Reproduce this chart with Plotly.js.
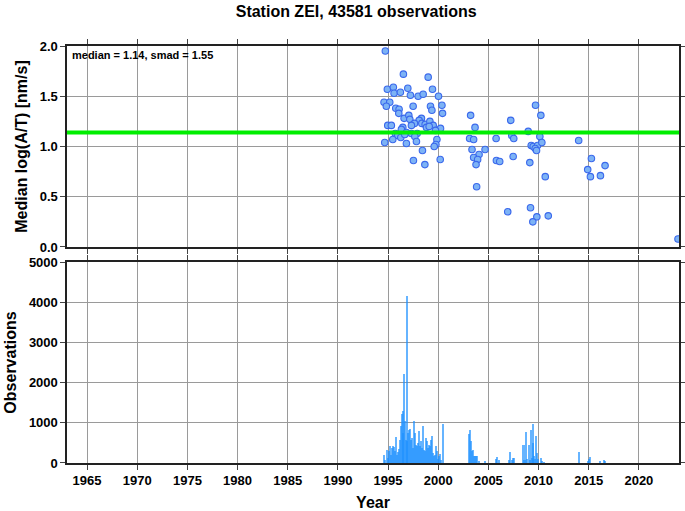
<!DOCTYPE html>
<html>
<head>
<meta charset="utf-8">
<script src="https://cdn.plot.ly/plotly-3.0.1.min.js"></script>
<style>html,body{margin:0;padding:0;background:#fff;}#chart{width:685px;height:511px;}</style>
</head>
<body>
<div id="chart"></div>
<script>
// Station ZEI data
const titleText = "Station ZEI, 43581 observations";
const medianValue = 1.14;
const smadValue = 1.55;

const pointYears = [
1994.73,1996.53,1999.0,1994.93,1995.53,1995.6,1996.23,1996.97,1997.23,1998.0,1998.5,1999.43,2000.03,
1994.6,1995.17,1994.83,1995.77,1996.1,1996.07,1997.5,1999.23,1999.37,2000.37,2000.43,
1996.6,1997.07,1997.17,1998.33,1998.1,1997.63,1997.33,1998.37,1998.7,1999.17,1999.5,1998.83,1999.1,
1994.97,1995.33,1996.47,1996.33,2000.23,1999.73,1995.73,1996.83,1997.33,1997.9,1995.97,1996.27,
1996.67,1997.67,1995.47,1999.87,1994.67,1996.83,1997.83,1999.77,1999.6,1998.43,1997.53,1998.67,2000.2,
2003.23,2003.67,2003.13,2003.53,2003.37,2004.67,2004.07,2003.53,2003.93,2003.77,2003.83,
2005.77,2005.8,2006.13,2007.23,2007.33,2007.53,2007.47,2006.93,
2009.7,2010.23,2008.97,2010.13,2009.27,2009.47,2009.9,2010.33,2009.67,2009.8,2009.13,2010.67,
2009.2,2009.83,2009.43,2010.97,
2014.0,2015.27,2016.63,2014.9,2015.17,2016.17,2023.9];
const pointMedians = [
1.95,1.72,1.69,1.57,1.59,1.53,1.54,1.58,1.51,1.50,1.52,1.57,1.50,
1.44,1.44,1.40,1.38,1.37,1.33,1.40,1.40,1.36,1.41,1.33,
1.28,1.31,1.27,1.28,1.26,1.23,1.21,1.23,1.22,1.25,1.21,1.19,1.20,
1.21,1.21,1.19,1.17,1.18,1.16,1.13,1.14,1.13,1.13,1.11,1.09,
1.12,1.10,1.07,1.07,1.04,1.03,1.05,1.02,1.00,0.96,0.86,0.82,0.87,
1.31,1.19,1.08,1.07,0.97,0.97,0.92,0.89,0.87,0.82,0.60,
1.08,0.86,0.85,1.26,1.11,1.08,0.90,0.35,
1.41,1.31,1.15,1.10,1.01,1.00,1.01,1.04,0.98,0.96,0.84,0.70,
0.39,0.30,0.25,0.31,
1.06,0.88,0.81,0.77,0.70,0.71,0.08];

const barYears = [
1994.6,1994.7,1994.9,1995.0,1995.1,1995.2,1995.3,1995.4,1995.5,1995.6,1995.7,1995.8,1995.9,
1996.0,1996.1,1996.2,1996.3,1996.4,1996.47,1996.53,1996.6,1996.7,1996.8,1996.87,1996.93,
1997.03,1997.13,1997.23,1997.33,1997.43,1997.53,1997.63,1997.73,1997.83,1997.93,
1998.03,1998.13,1998.23,1998.33,1998.43,1998.5,1998.6,1998.7,1998.8,1998.9,
1999.0,1999.1,1999.2,1999.3,1999.4,1999.5,1999.6,1999.7,1999.8,1999.9,
2000.0,2000.1,2000.2,2000.3,2000.43,
2003.1,2003.2,2003.3,2003.4,2003.5,2003.6,2003.7,2003.8,2003.9,2004.03,2004.67,
2005.73,2005.83,2006.1,2007.03,2007.2,2007.33,2007.47,2007.57,
2008.5,2008.6,2008.7,2008.8,2009.0,2009.1,2009.2,2009.3,2009.4,2009.47,2009.57,2009.67,
2009.77,2009.87,2009.97,2010.2,2010.3,2010.57,
2014.0,2014.9,2015.07,2015.17,2016.1,2016.5,2016.6];
const barCounts = [
190,80,330,125,290,420,210,375,430,400,290,650,210,
270,350,560,920,1220,1290,750,2210,1040,580,4150,540,
750,830,850,580,620,375,1040,750,460,420,
500,790,420,540,375,930,330,290,620,540,
375,460,420,580,670,250,170,210,430,290,
110,170,230,80,960,
720,830,540,290,320,180,180,180,170,60,60,
110,150,80,80,275,80,125,125,
460,80,775,100,440,80,820,125,500,970,170,100,
680,250,100,115,60,35,
275,60,100,140,40,65,50];

const xRange = [1963, 2024];
const xTicks = [1965,1970,1975,1980,1985,1990,1995,2000,2005,2010,2015,2020];

const fontFam = "Liberation Sans, Arial, Helvetica, sans-serif";
const tickFont = {family: fontFam, size: 13, color: "#000", weight: "bold"};

const traces = [
  {
    x: pointYears, y: pointMedians, type: "scatter", mode: "markers",
    xaxis: "x", yaxis: "y",
    marker: {size: 6.5, color: "#7db3f5", line: {color: "#3a68ec", width: 1.1}},
    hoverinfo: "x+y", showlegend: false
  },
  {
    x: barYears, y: barCounts, type: "bar",
    xaxis: "x2", yaxis: "y2",
    width: 0.2,
    marker: {color: "rgba(30,144,255,0.68)", line: {width: 0}},
    showlegend: false
  }
];

const axisCommon = {
  range: xRange, tickmode: "array", tickvals: xTicks,
  showgrid: true, gridcolor: "#9a9a9a", gridwidth: 1,
  showline: true, linecolor: "#222", linewidth: 1.6, mirror: "ticks",
  ticks: "outside", ticklen: 5, tickcolor: "#444", tickwidth: 1,
  zeroline: false, tickfont: tickFont
};

const layout = {
  width: 685, height: 511,
  margin: {l: 67, r: 6, t: 46, b: 48},
  paper_bgcolor: "#fff", plot_bgcolor: "#fff",
  bargap: 0, barmode: "overlay",
  title: {text: titleText, x: 0.52, xanchor: "center", y: 0.977, yanchor: "middle",
          font: {family: fontFam, size: 16, color: "#000", weight: "bold"}},
  xaxis: Object.assign({}, axisCommon, {anchor: "y", showticklabels: false}),
  yaxis: {
    domain: [0.518, 1], range: [0, 2], dtick: 0.5, tick0: 0, tickformat: ".1f",
    showgrid: true, gridcolor: "#9a9a9a", gridwidth: 1,
    showline: true, linecolor: "#222", linewidth: 1.6, mirror: "ticks",
    ticks: "outside", ticklen: 5, tickcolor: "#444", zeroline: false, tickfont: tickFont,
    title: {text: "Median log(A/T) [nm/s]", standoff: 8,
            font: {family: fontFam, size: 16, color: "#000", weight: "bold"}}
  },
  xaxis2: Object.assign({}, axisCommon, {anchor: "y2",
    title: {text: "Year", standoff: 12, font: {family: fontFam, size: 16, color: "#000", weight: "bold"}}}),
  yaxis2: {
    domain: [0, 0.482], range: [0, 5000], dtick: 1000, tick0: 0,
    showgrid: true, gridcolor: "#9a9a9a", gridwidth: 1,
    showline: true, linecolor: "#222", linewidth: 1.6, mirror: "ticks",
    ticks: "outside", ticklen: 5, tickcolor: "#444", zeroline: false, tickfont: tickFont,
    title: {text: "Observations", standoff: 8,
            font: {family: fontFam, size: 16, color: "#000", weight: "bold"}}
  },
  shapes: [
    {type: "line", xref: "x domain", yref: "y", x0: 0, x1: 1, y0: medianValue, y1: medianValue,
     line: {color: "#00ee00", width: 4}, layer: "above"}
  ],
  annotations: [
    {xref: "x domain", yref: "y domain", x: 0.005, y: 0.995, xanchor: "left", yanchor: "top",
     showarrow: false, text: "median = " + medianValue.toFixed(2) + ", smad = " + smadValue.toFixed(2),
     font: {family: fontFam, size: 11, color: "#000", weight: "bold"}}
  ]
};

Plotly.newPlot("chart", traces, layout, {displayModeBar: false, staticPlot: true});
</script>
</body>
</html>
